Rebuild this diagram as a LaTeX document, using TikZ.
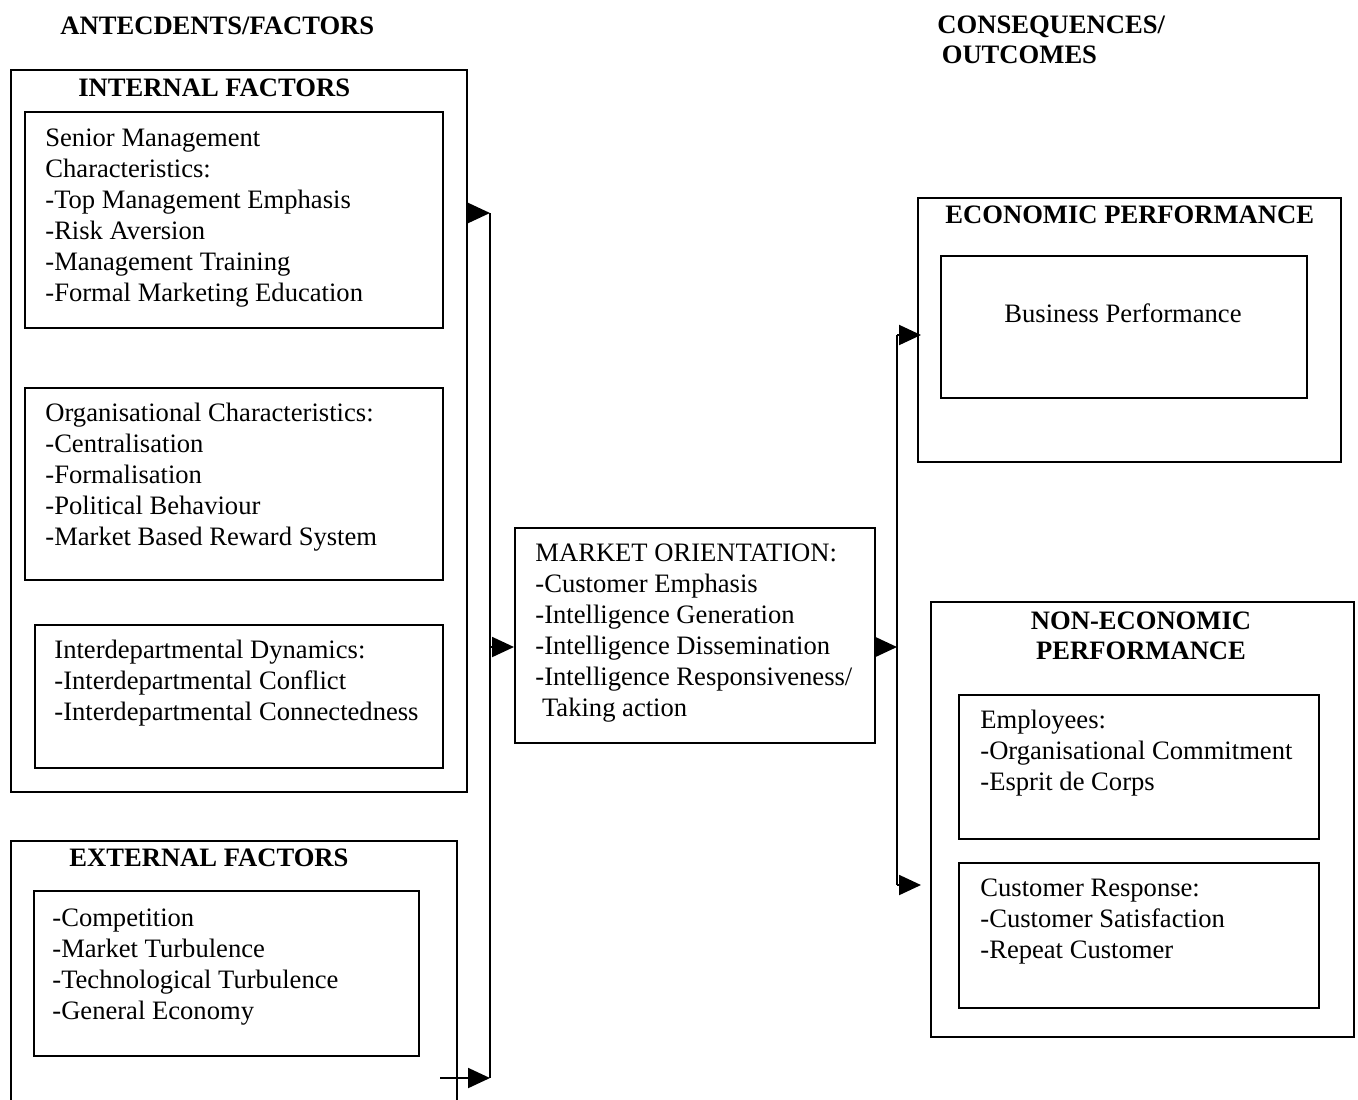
\documentclass[tikz,border=0pt]{standalone}
\usepackage{fontspec}
\setmainfont{Liberation Serif}
\usetikzlibrary{arrows.meta,calc}

\tikzset{
  box/.style={draw, line width=1.2pt, anchor=north west, inner sep=0pt},
  body/.style={anchor=north west, inner sep=0pt, align=left,
    font=\fontsize{13.3pt}{15.5pt}\selectfont},
  head/.style={anchor=base west, inner sep=0pt,
    font=\fontsize{13.3pt}{15.2pt}\selectfont\bfseries},
  wire/.style={line width=1pt},
  arr/.style={wire, -{Triangle[length=11pt,width=10pt]}}
}

\begin{document}
\begin{tikzpicture}[x=0.5pt,y=-0.5pt]
  \clip (0,0) rectangle (1358,1099);
  \useasboundingbox (0,0) rectangle (1358,1099);

  % column titles
  \node[head] (anteTitle) at (60,34) {ANTECDENTS/FACTORS};
  \node[head, anchor=north west, align=left] (consTitle) at (937,15) {CONSEQUENCES/\\\,OUTCOMES};

  % internal factors
  \node[box, minimum width=228pt, minimum height=361pt] (internal) at (10,69) {};
  \node[head] (internalTitle) at (78,96) {INTERNAL FACTORS};
  \node[box, minimum width=209pt, minimum height=108pt] (senior) at (24,111) {};
  \node[body] (seniorText) at (45,128) {Senior Management\\Characteristics:\\-Top Management Emphasis\\-Risk Aversion\\-Management Training\\-Formal Marketing Education};
  \node[box, minimum width=209pt, minimum height=96pt] (org) at (24,387) {};
  \node[body] (orgText) at (45,403) {Organisational Characteristics:\\-Centralisation\\-Formalisation\\-Political Behaviour\\-Market Based Reward System};
  \node[box, minimum width=204pt, minimum height=71.5pt] (inter) at (34,624) {};
  \node[body] (interText) at (54,640) {Interdepartmental Dynamics:\\-Interdepartmental Conflict\\-Interdepartmental Connectedness};

  % external factors
  \node[box, minimum width=223pt, minimum height=140pt] (external) at (10,840) {};
  \node[head] (externalTitle) at (69,866) {EXTERNAL FACTORS};
  \node[box, minimum width=192.5pt, minimum height=82.5pt] (extList) at (33,890) {};
  \node[body] (extText) at (52,908) {-Competition\\-Market Turbulence\\-Technological Turbulence\\-General Economy};

  % market orientation
  \node[box, minimum width=180pt, minimum height=107.5pt] (mo) at (514,527) {};
  \node[body] (moText) at (535,543) {MARKET ORIENTATION:\\-Customer Emphasis\\-Intelligence Generation\\-Intelligence Dissemination\\-Intelligence Responsiveness/\\\ Taking action};

  % economic performance
  \node[box, minimum width=211.5pt, minimum height=132pt] (econ) at (917,197) {};
  \node[head] (econTitle) at (945,223) {ECONOMIC PERFORMANCE};
  \node[box, minimum width=183pt, minimum height=71pt] (business) at (940,255) {};
  \node[body, anchor=base] (businessText) at (1123,322) {Business Performance};

  % non-economic performance
  \node[box, minimum width=211.5pt, minimum height=217.5pt] (nonecon) at (930,601) {};
  \node[head, anchor=north, align=center] (noneconTitle) at (1141,611) {NON-ECONOMIC\\PERFORMANCE};
  \node[box, minimum width=180pt, minimum height=72pt] (employees) at (958,694) {};
  \node[body] (employeesText) at (980,710) {Employees:\\-Organisational Commitment\\-Esprit de Corps};
  \node[box, minimum width=180pt, minimum height=72.5pt] (customer) at (958,862) {};
  \node[body] (customerText) at (980,878) {Customer Response:\\-Customer Satisfaction\\-Repeat Customer};

  % junction points of the connectors
  \coordinate (busTop) at (490,213);
  \coordinate (busMid) at (490,647);
  \coordinate (busBot) at (490,1078);
  \coordinate (extStart) at (440,1078);
  \coordinate (outMid) at (897,647);
  \coordinate (outTop) at (897,335);
  \coordinate (outBot) at (897,885);
  \coordinate (outBotEnd) at (921,885);

  % antecedents to market orientation
  \draw[arr] (internal.east |- busTop) -- (busTop);
  \draw[wire] (busTop) -- (busBot);
  \draw[arr] (extStart) -- (busBot);
  \draw[arr] (busMid) -- (mo.west |- busMid);

  % market orientation to outcomes
  \draw[arr] (mo.east |- outMid) -- (outMid);
  \draw[wire] (outTop) -- (outBot);
  \draw[arr] (outTop) -- ($(econ.west |- outTop)+(4,0)$);
  \draw[arr] (outBot) -- (outBotEnd);
\end{tikzpicture}
\end{document}
